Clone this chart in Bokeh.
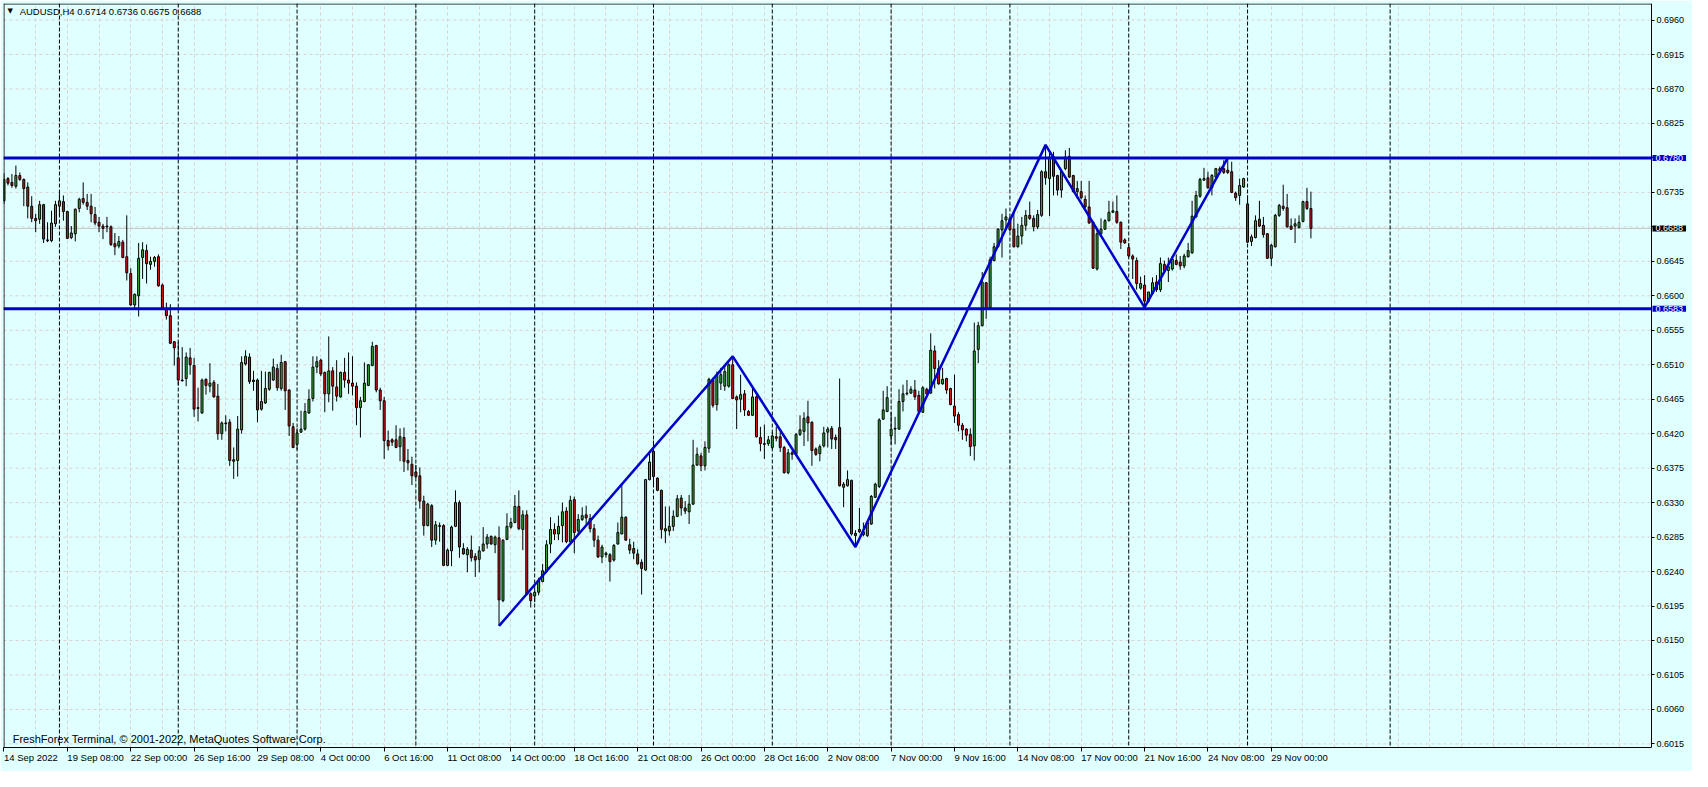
from bokeh.plotting import figure
from bokeh.models import ColumnDataSource, FixedTicker, Span, Label, PrintfTickFormatter
from bokeh.embed import file_html
from bokeh.resources import INLINE

# AUDUSD, H4 candles (bar 0 = first visible bar, 14 Sep 2022)
opens = [
    0.6724, 0.6753, 0.6748, 0.6743, 0.6757, 0.6752, 0.6742, 0.6717, 0.6701, 0.6700,
    0.6719, 0.6673, 0.6672, 0.6694, 0.6717, 0.6723, 0.6710, 0.6676, 0.6681, 0.6714,
    0.6727, 0.6722, 0.6717, 0.6706, 0.6696, 0.6691, 0.6691, 0.6690, 0.6668, 0.6665,
    0.6670, 0.6651, 0.6629, 0.6588, 0.6600, 0.6650, 0.6659, 0.6641, 0.6645, 0.6651,
    0.6614, 0.6583, 0.6574, 0.6540, 0.6519, 0.6490, 0.6492, 0.6519, 0.6509, 0.6454,
    0.6447, 0.6491, 0.6482, 0.6487, 0.6469, 0.6420, 0.6434, 0.6435, 0.6386, 0.6385,
    0.6425, 0.6511, 0.6520, 0.6490, 0.6490, 0.6452, 0.6460, 0.6478, 0.6490, 0.6505,
    0.6479, 0.6514, 0.6477, 0.6429, 0.6406, 0.6422, 0.6426, 0.6447, 0.6466, 0.6507,
    0.6516, 0.6500, 0.6472, 0.6502, 0.6481, 0.6468, 0.6500, 0.6490, 0.6486, 0.6482,
    0.6454, 0.6462, 0.6483, 0.6509, 0.6535, 0.6477, 0.6463, 0.6411, 0.6412, 0.6412,
    0.6403, 0.6415, 0.6385, 0.6380, 0.6370, 0.6365, 0.6332, 0.6300, 0.6326, 0.6281,
    0.6300, 0.6300, 0.6248, 0.6267, 0.6299, 0.6330, 0.6270, 0.6262, 0.6268, 0.6260,
    0.6256, 0.6267, 0.6276, 0.6286, 0.6275, 0.6284, 0.6202, 0.6282, 0.6298, 0.6304,
    0.6325, 0.6295, 0.6314, 0.6211, 0.6208, 0.6213, 0.6227, 0.6240, 0.6276, 0.6295,
    0.6289, 0.6300, 0.6319, 0.6279, 0.6334, 0.6293, 0.6308, 0.6314, 0.6309, 0.6296,
    0.6281, 0.6259, 0.6262, 0.6262, 0.6255, 0.6276, 0.6289, 0.6311, 0.6275, 0.6270,
    0.6263, 0.6252, 0.6242, 0.6360, 0.6397, 0.6362, 0.6346, 0.6296, 0.6293, 0.6299,
    0.6312, 0.6336, 0.6323, 0.6318, 0.6328, 0.6379, 0.6391, 0.6378, 0.6401, 0.6490,
    0.6458, 0.6486, 0.6482, 0.6482, 0.6510, 0.6468, 0.6465, 0.6472, 0.6449, 0.6444,
    0.6468, 0.6415, 0.6407, 0.6407, 0.6402, 0.6416, 0.6416, 0.6402, 0.6369, 0.6395,
    0.6393, 0.6419, 0.6423, 0.6442, 0.6435, 0.6400, 0.6394, 0.6404, 0.6422, 0.6427,
    0.6415, 0.6428, 0.6350, 0.6352, 0.6359, 0.6290, 0.6295, 0.6292, 0.6287, 0.6302,
    0.6337, 0.6351, 0.6439, 0.6449, 0.6417, 0.6426, 0.6426, 0.6462, 0.6472, 0.6473,
    0.6477, 0.6470, 0.6448, 0.6478, 0.6473, 0.6528, 0.6505, 0.6485, 0.6492, 0.6479,
    0.6456, 0.6445, 0.6431, 0.6426, 0.6419, 0.6404, 0.6530, 0.6561, 0.6617, 0.6584,
    0.6646, 0.6664, 0.6686, 0.6699, 0.6701, 0.6687, 0.6664, 0.6678, 0.6692, 0.6705,
    0.6701, 0.6690, 0.6705, 0.6762, 0.6753, 0.6782, 0.6757, 0.6738, 0.6766, 0.6782,
    0.6757, 0.6740, 0.6736, 0.6726, 0.6716, 0.6696, 0.6635, 0.6681, 0.6687, 0.6698,
    0.6709, 0.6710, 0.6696, 0.6673, 0.6663, 0.6652, 0.6646, 0.6610, 0.6614, 0.6593,
    0.6603, 0.6618, 0.6608, 0.6641, 0.6633, 0.6635, 0.6646, 0.6644, 0.6639, 0.6651,
    0.6656, 0.6703, 0.6730, 0.6751, 0.6754, 0.6741, 0.6755, 0.6766, 0.6766, 0.6764,
    0.6762, 0.6734, 0.6731, 0.6742, 0.6720, 0.6671, 0.6676, 0.6700, 0.6692, 0.6681,
    0.6649, 0.6664, 0.6705, 0.6717, 0.6715, 0.6691, 0.6691, 0.6689, 0.6697, 0.6723,
    0.6714,
]
highs = [
    0.6760, 0.6755, 0.6759, 0.6770, 0.6761, 0.6753, 0.6748, 0.6730, 0.6707, 0.6724,
    0.6720, 0.6696, 0.6711, 0.6724, 0.6734, 0.6731, 0.6711, 0.6691, 0.6714, 0.6728,
    0.6748, 0.6733, 0.6733, 0.6716, 0.6703, 0.6694, 0.6703, 0.6692, 0.6682, 0.6678,
    0.6673, 0.6705, 0.6636, 0.6603, 0.6669, 0.6670, 0.6667, 0.6651, 0.6652, 0.6654,
    0.6616, 0.6591, 0.6589, 0.6541, 0.6540, 0.6533, 0.6526, 0.6532, 0.6519, 0.6480,
    0.6492, 0.6492, 0.6512, 0.6490, 0.6485, 0.6436, 0.6444, 0.6439, 0.6402, 0.6443,
    0.6521, 0.6529, 0.6525, 0.6502, 0.6492, 0.6502, 0.6501, 0.6501, 0.6518, 0.6511,
    0.6523, 0.6515, 0.6478, 0.6434, 0.6427, 0.6450, 0.6460, 0.6478, 0.6521, 0.6521,
    0.6518, 0.6501, 0.6547, 0.6507, 0.6516, 0.6501, 0.6519, 0.6526, 0.6521, 0.6487,
    0.6468, 0.6513, 0.6511, 0.6540, 0.6536, 0.6480, 0.6468, 0.6424, 0.6414, 0.6431,
    0.6427, 0.6428, 0.6400, 0.6390, 0.6379, 0.6376, 0.6339, 0.6330, 0.6328, 0.6306,
    0.6304, 0.6302, 0.6270, 0.6300, 0.6346, 0.6333, 0.6277, 0.6272, 0.6287, 0.6264,
    0.6273, 0.6298, 0.6289, 0.6287, 0.6287, 0.6299, 0.6282, 0.6316, 0.6310, 0.6340,
    0.6346, 0.6320, 0.6320, 0.6213, 0.6217, 0.6232, 0.6250, 0.6281, 0.6311, 0.6303,
    0.6313, 0.6330, 0.6324, 0.6339, 0.6338, 0.6315, 0.6324, 0.6326, 0.6315, 0.6302,
    0.6287, 0.6275, 0.6266, 0.6264, 0.6276, 0.6304, 0.6355, 0.6312, 0.6283, 0.6279,
    0.6269, 0.6256, 0.6361, 0.6395, 0.6411, 0.6363, 0.6347, 0.6325, 0.6325, 0.6320,
    0.6340, 0.6340, 0.6332, 0.6340, 0.6412, 0.6402, 0.6395, 0.6410, 0.6493, 0.6493,
    0.6501, 0.6506, 0.6508, 0.6512, 0.6521, 0.6470, 0.6497, 0.6477, 0.6451, 0.6480,
    0.6470, 0.6429, 0.6432, 0.6417, 0.6422, 0.6429, 0.6423, 0.6404, 0.6400, 0.6398,
    0.6421, 0.6444, 0.6448, 0.6463, 0.6436, 0.6402, 0.6406, 0.6429, 0.6429, 0.6430,
    0.6419, 0.6492, 0.6357, 0.6372, 0.6360, 0.6294, 0.6323, 0.6304, 0.6306, 0.6340,
    0.6356, 0.6440, 0.6476, 0.6482, 0.6448, 0.6442, 0.6478, 0.6484, 0.6490, 0.6482,
    0.6490, 0.6476, 0.6482, 0.6480, 0.6551, 0.6535, 0.6516, 0.6506, 0.6493, 0.6480,
    0.6497, 0.6448, 0.6434, 0.6427, 0.6427, 0.6565, 0.6566, 0.6631, 0.6618, 0.6651,
    0.6669, 0.6688, 0.6707, 0.6714, 0.6703, 0.6709, 0.6694, 0.6703, 0.6712, 0.6723,
    0.6705, 0.6712, 0.6764, 0.6797, 0.6788, 0.6788, 0.6758, 0.6764, 0.6790, 0.6793,
    0.6758, 0.6750, 0.6750, 0.6731, 0.6750, 0.6697, 0.6686, 0.6701, 0.6700, 0.6724,
    0.6723, 0.6731, 0.6697, 0.6675, 0.6669, 0.6654, 0.6650, 0.6625, 0.6627, 0.6605,
    0.6624, 0.6627, 0.6650, 0.6646, 0.6650, 0.6652, 0.6654, 0.6652, 0.6655, 0.6669,
    0.6724, 0.6737, 0.6754, 0.6767, 0.6762, 0.6759, 0.6767, 0.6769, 0.6777, 0.6781,
    0.6775, 0.6736, 0.6753, 0.6754, 0.6731, 0.6680, 0.6705, 0.6724, 0.6703, 0.6682,
    0.6668, 0.6707, 0.6720, 0.6745, 0.6733, 0.6701, 0.6701, 0.6705, 0.6724, 0.6741,
    0.6736,
]
lows = [
    0.6720, 0.6744, 0.6741, 0.6740, 0.6750, 0.6717, 0.6701, 0.6696, 0.6683, 0.6694,
    0.6669, 0.6670, 0.6670, 0.6690, 0.6704, 0.6698, 0.6674, 0.6674, 0.6671, 0.6709,
    0.6719, 0.6712, 0.6696, 0.6692, 0.6683, 0.6674, 0.6683, 0.6665, 0.6653, 0.6662,
    0.6649, 0.6620, 0.6587, 0.6583, 0.6573, 0.6622, 0.6616, 0.6634, 0.6638, 0.6612,
    0.6582, 0.6569, 0.6537, 0.6509, 0.6483, 0.6488, 0.6482, 0.6497, 0.6442, 0.6436,
    0.6446, 0.6471, 0.6474, 0.6467, 0.6412, 0.6412, 0.6423, 0.6378, 0.6361, 0.6364,
    0.6420, 0.6509, 0.6485, 0.6476, 0.6435, 0.6450, 0.6459, 0.6476, 0.6489, 0.6476,
    0.6476, 0.6451, 0.6417, 0.6401, 0.6399, 0.6421, 0.6424, 0.6446, 0.6462, 0.6499,
    0.6495, 0.6448, 0.6461, 0.6450, 0.6462, 0.6467, 0.6480, 0.6472, 0.6470, 0.6431,
    0.6415, 0.6461, 0.6482, 0.6508, 0.6474, 0.6451, 0.6387, 0.6398, 0.6404, 0.6401,
    0.6384, 0.6370, 0.6372, 0.6353, 0.6362, 0.6322, 0.6287, 0.6299, 0.6272, 0.6275,
    0.6279, 0.6247, 0.6247, 0.6247, 0.6298, 0.6258, 0.6262, 0.6239, 0.6253, 0.6233,
    0.6239, 0.6266, 0.6270, 0.6275, 0.6264, 0.6169, 0.6200, 0.6281, 0.6296, 0.6303,
    0.6294, 0.6268, 0.6209, 0.6193, 0.6200, 0.6209, 0.6226, 0.6238, 0.6264, 0.6281,
    0.6281, 0.6278, 0.6277, 0.6277, 0.6264, 0.6289, 0.6306, 0.6302, 0.6291, 0.6272,
    0.6258, 0.6251, 0.6258, 0.6227, 0.6253, 0.6275, 0.6289, 0.6280, 0.6263, 0.6256,
    0.6249, 0.6210, 0.6241, 0.6359, 0.6353, 0.6345, 0.6283, 0.6277, 0.6287, 0.6293,
    0.6311, 0.6313, 0.6315, 0.6302, 0.6327, 0.6378, 0.6371, 0.6372, 0.6395, 0.6454,
    0.6450, 0.6477, 0.6476, 0.6480, 0.6465, 0.6426, 0.6448, 0.6443, 0.6443, 0.6443,
    0.6415, 0.6397, 0.6387, 0.6404, 0.6400, 0.6410, 0.6396, 0.6368, 0.6367, 0.6386,
    0.6392, 0.6417, 0.6404, 0.6410, 0.6378, 0.6391, 0.6384, 0.6402, 0.6402, 0.6400,
    0.6400, 0.6351, 0.6324, 0.6351, 0.6287, 0.6272, 0.6290, 0.6286, 0.6285, 0.6301,
    0.6336, 0.6349, 0.6438, 0.6448, 0.6406, 0.6406, 0.6425, 0.6449, 0.6470, 0.6472,
    0.6464, 0.6448, 0.6447, 0.6470, 0.6472, 0.6479, 0.6484, 0.6484, 0.6472, 0.6457,
    0.6434, 0.6423, 0.6412, 0.6410, 0.6391, 0.6385, 0.6512, 0.6560, 0.6570, 0.6582,
    0.6645, 0.6663, 0.6650, 0.6689, 0.6684, 0.6663, 0.6663, 0.6667, 0.6685, 0.6699,
    0.6684, 0.6687, 0.6703, 0.6745, 0.6704, 0.6731, 0.6731, 0.6728, 0.6764, 0.6754,
    0.6735, 0.6727, 0.6726, 0.6714, 0.6694, 0.6635, 0.6633, 0.6679, 0.6686, 0.6697,
    0.6708, 0.6694, 0.6661, 0.6668, 0.6650, 0.6622, 0.6608, 0.6608, 0.6585, 0.6591,
    0.6601, 0.6605, 0.6605, 0.6631, 0.6618, 0.6633, 0.6640, 0.6634, 0.6636, 0.6650,
    0.6655, 0.6702, 0.6728, 0.6750, 0.6740, 0.6731, 0.6754, 0.6761, 0.6759, 0.6759,
    0.6734, 0.6724, 0.6719, 0.6741, 0.6669, 0.6665, 0.6675, 0.6690, 0.6676, 0.6648,
    0.6639, 0.6663, 0.6703, 0.6711, 0.6689, 0.6686, 0.6669, 0.6688, 0.6696, 0.6712,
    0.6675,
]
closes = [
    0.6752, 0.6747, 0.6744, 0.6757, 0.6752, 0.6740, 0.6717, 0.6701, 0.6698, 0.6719,
    0.6674, 0.6672, 0.6695, 0.6719, 0.6724, 0.6710, 0.6675, 0.6682, 0.6713, 0.6726,
    0.6722, 0.6717, 0.6707, 0.6695, 0.6691, 0.6688, 0.6690, 0.6667, 0.6664, 0.6671,
    0.6650, 0.6630, 0.6588, 0.6602, 0.6649, 0.6660, 0.6642, 0.6645, 0.6650, 0.6613,
    0.6583, 0.6574, 0.6538, 0.6532, 0.6490, 0.6489, 0.6520, 0.6510, 0.6452, 0.6453,
    0.6490, 0.6483, 0.6486, 0.6468, 0.6420, 0.6434, 0.6433, 0.6385, 0.6384, 0.6426,
    0.6513, 0.6521, 0.6488, 0.6488, 0.6451, 0.6462, 0.6479, 0.6500, 0.6507, 0.6480,
    0.6513, 0.6476, 0.6430, 0.6402, 0.6421, 0.6426, 0.6449, 0.6465, 0.6507, 0.6514,
    0.6498, 0.6472, 0.6502, 0.6482, 0.6469, 0.6500, 0.6490, 0.6486, 0.6482, 0.6454,
    0.6463, 0.6486, 0.6510, 0.6534, 0.6477, 0.6463, 0.6411, 0.6404, 0.6409, 0.6402,
    0.6416, 0.6384, 0.6382, 0.6365, 0.6364, 0.6332, 0.6300, 0.6328, 0.6281, 0.6301,
    0.6299, 0.6248, 0.6268, 0.6298, 0.6330, 0.6272, 0.6263, 0.6269, 0.6258, 0.6255,
    0.6267, 0.6276, 0.6285, 0.6276, 0.6285, 0.6203, 0.6281, 0.6299, 0.6304, 0.6325,
    0.6296, 0.6314, 0.6210, 0.6202, 0.6213, 0.6229, 0.6241, 0.6275, 0.6295, 0.6289,
    0.6299, 0.6318, 0.6279, 0.6333, 0.6291, 0.6308, 0.6313, 0.6310, 0.6296, 0.6281,
    0.6259, 0.6272, 0.6264, 0.6253, 0.6274, 0.6291, 0.6311, 0.6281, 0.6268, 0.6264,
    0.6250, 0.6244, 0.6360, 0.6383, 0.6364, 0.6346, 0.6295, 0.6293, 0.6299, 0.6312,
    0.6335, 0.6323, 0.6319, 0.6328, 0.6379, 0.6393, 0.6378, 0.6402, 0.6491, 0.6457,
    0.6496, 0.6497, 0.6501, 0.6510, 0.6466, 0.6464, 0.6471, 0.6451, 0.6444, 0.6468,
    0.6416, 0.6407, 0.6406, 0.6412, 0.6417, 0.6414, 0.6402, 0.6369, 0.6395, 0.6393,
    0.6419, 0.6425, 0.6440, 0.6434, 0.6398, 0.6393, 0.6403, 0.6421, 0.6426, 0.6413,
    0.6412, 0.6352, 0.6354, 0.6360, 0.6289, 0.6287, 0.6292, 0.6288, 0.6304, 0.6338,
    0.6354, 0.6438, 0.6451, 0.6467, 0.6426, 0.6427, 0.6462, 0.6472, 0.6473, 0.6478,
    0.6468, 0.6449, 0.6480, 0.6472, 0.6529, 0.6505, 0.6485, 0.6491, 0.6477, 0.6458,
    0.6443, 0.6431, 0.6425, 0.6418, 0.6403, 0.6528, 0.6561, 0.6618, 0.6584, 0.6647,
    0.6664, 0.6687, 0.6698, 0.6703, 0.6686, 0.6664, 0.6678, 0.6692, 0.6705, 0.6701,
    0.6690, 0.6706, 0.6762, 0.6754, 0.6781, 0.6756, 0.6738, 0.6762, 0.6781, 0.6755,
    0.6736, 0.6736, 0.6728, 0.6716, 0.6695, 0.6636, 0.6681, 0.6687, 0.6698, 0.6709,
    0.6711, 0.6696, 0.6670, 0.6669, 0.6652, 0.6648, 0.6616, 0.6616, 0.6593, 0.6605,
    0.6617, 0.6608, 0.6642, 0.6633, 0.6638, 0.6648, 0.6641, 0.6639, 0.6652, 0.6659,
    0.6704, 0.6731, 0.6752, 0.6753, 0.6741, 0.6757, 0.6766, 0.6763, 0.6761, 0.6761,
    0.6735, 0.6728, 0.6744, 0.6753, 0.6670, 0.6677, 0.6698, 0.6691, 0.6680, 0.6649,
    0.6666, 0.6705, 0.6718, 0.6714, 0.6690, 0.6687, 0.6694, 0.6696, 0.6723, 0.6714,
    0.6688,
]

# time axis: one label every 16 bars
tick_bars = [0, 16, 32, 48, 64, 80, 96, 112, 128, 144, 160,
             176, 192, 208, 224, 240, 256, 272, 288, 304, 320]
tick_labels = ["14 Sep 2022", "19 Sep 08:00", "22 Sep 00:00", "26 Sep 16:00",
               "29 Sep 08:00", "4 Oct 00:00", "6 Oct 16:00", "11 Oct 08:00",
               "14 Oct 00:00", "18 Oct 16:00", "21 Oct 08:00", "26 Oct 00:00",
               "28 Oct 16:00", "2 Nov 08:00", "7 Nov 00:00", "9 Nov 16:00",
               "14 Nov 08:00", "17 Nov 00:00", "21 Nov 16:00", "24 Nov 08:00",
               "29 Nov 00:00"]
# weekly period separators (Monday 00:00 bars)
separator_bars = [14, 44, 74, 104, 134, 164, 194, 224, 254, 284, 314, 350]

# zigzag drawn on the chart
zz_bars = [125, 184, 215, 263, 288, 309]
zz_prices = [0.6169, 0.6521, 0.6272, 0.6797, 0.6585, 0.6780]

resistance = 0.6780
support = 0.6583
bid = 0.6688
header = "AUDUSD,H4  0.6714 0.6736 0.6675 0.6688"
footer = "FreshForex Terminal, \u00a9 2001-2022, MetaQuotes Software Corp."

price_ticks = [round(0.6015 + 0.0045 * k, 4) for k in range(22)]
hidden_ticks = [0.678, 0.669]          # scale labels covered by the price tags
grid_bars = list(range(0, 416, 8))

BG = "#E0FFFF"
BULL = "#3DB03D"
BEAR = "#E01414"
LEVEL = "#0000CD"
GRID = "#DCCFCF"
FONT = "Liberation Sans"

X0, X_BOX, X1 = -0.125, 416.0, 426.35   # chart box ends at X_BOX, price scale beyond
Y0, Y1 = 0.60103, 0.69816

source = ColumnDataSource(data=dict(
    bar=list(range(len(opens))),
    high=highs,
    low=lows,
    top=[max(o, c) for o, c in zip(opens, closes)],
    bottom=[min(o, c) for o, c in zip(opens, closes)],
    color=[BULL if c >= o else BEAR for o, c in zip(opens, closes)],
))

p = figure(width=1692, height=771, x_range=(X0, X1), y_range=(Y0, Y1),
           output_backend="svg", toolbar_location=None, tools="",
           y_axis_location="right", background_fill_color=BG, border_fill_color=BG,
           outline_line_color=None, min_border_left=3, min_border_top=3,
           min_border_right=0, min_border_bottom=21)

# grid: vertical every 8 bars, horizontal at the price ticks (stopping at the box edge)
p.xgrid.ticker = FixedTicker(ticks=grid_bars)
p.xgrid.grid_line_color = GRID
p.xgrid.grid_line_dash = "3 3"
p.ygrid.visible = False
p.segment(x0=[X0] * len(price_ticks), y0=price_ticks, x1=[X_BOX] * len(price_ticks),
          y1=price_ticks, line_color=GRID, line_dash="3 3", line_width=1, level="underlay")

# axes
p.xaxis.ticker = FixedTicker(ticks=tick_bars)
p.xaxis.bounds = (X0, X_BOX)
p.xaxis.major_label_overrides = {b: t for b, t in zip(tick_bars, tick_labels)}
p.xaxis.major_label_orientation = -0.0001   # numeric angle -> labels start at the tick
p.xaxis.major_tick_out = 4
p.xaxis.major_tick_in = 0
p.xaxis.major_label_standoff = 6
p.xaxis.major_label_text_font_size = "9.5px"
p.yaxis.fixed_location = X_BOX
p.yaxis.ticker = FixedTicker(ticks=price_ticks)
p.yaxis.formatter = PrintfTickFormatter(format="%.4f")
p.yaxis.major_label_overrides = {t: "" for t in hidden_ticks}
p.yaxis.major_tick_out = 3
p.yaxis.major_tick_in = 0
p.yaxis.major_label_standoff = 2
p.yaxis.major_label_text_font_size = "9px"
for ax in (p.xaxis, p.yaxis):
    ax.axis_line_color = "black"
    ax.major_tick_line_color = "black"
    ax.minor_tick_line_color = None
    ax.major_label_text_font = FONT
    ax.major_label_text_color = "black"

# left and top edges of the chart box
p.add_layout(Span(location=X0 + 0.12, dimension="height", line_color="black", line_width=1))
p.segment(x0=[X0], y0=[Y1 - 0.00006], x1=[X_BOX], y1=[Y1 - 0.00006],
          line_color="black", line_width=1)

# period separators and bid line
for b in separator_bars:
    p.add_layout(Span(location=b, dimension="height", line_color="black",
                      line_dash="4 2", line_width=1, level="underlay"))
p.segment(x0=[X0], y0=[bid], x1=[X_BOX], y1=[bid], line_color="#C4C4C4",
          line_width=1, level="underlay")

# candles
p.segment(x0="bar", y0="low", x1="bar", y1="high", source=source,
          line_color="black", line_width=1)
p.vbar(x="bar", width=0.5, top="top", bottom="bottom", source=source,
       fill_color="color", line_color="black", line_width=1)

# support / resistance and zigzag
p.segment(x0=[X0, X0], y0=[resistance, support], x1=[X_BOX, X_BOX],
          y1=[resistance, support], line_color=LEVEL, line_width=3)
p.line(zz_bars, zz_prices, line_color=LEVEL, line_width=2.5)

# price tags on the scale
for lvl, bg in ((resistance, LEVEL), (support, LEVEL), (bid, "black")):
    p.add_layout(Label(x=X_BOX, y=lvl, x_offset=1, text=f"{lvl:.4f}", text_color="white",
                       text_font=FONT, text_font_size="9px", text_baseline="middle",
                       text_align="left", background_fill_color=bg, padding=(3, 0)))

# header and footer texts
p.add_layout(Label(x=0.9, y=0.69715, text="\u25bc", text_font="DejaVu Sans",
                   text_font_size="7px", text_baseline="middle", text_color="black"))
p.add_layout(Label(x=3.95, y=0.69715, text=header, text_font=FONT, text_font_size="9.5px",
                   text_baseline="middle", text_color="black"))
p.add_layout(Label(x=2.2, y=0.60217, text=footer, text_font=FONT, text_font_size="11px",
                   text_baseline="middle", text_color="black"))

open("out.html", "w").write(file_html(p, INLINE))
